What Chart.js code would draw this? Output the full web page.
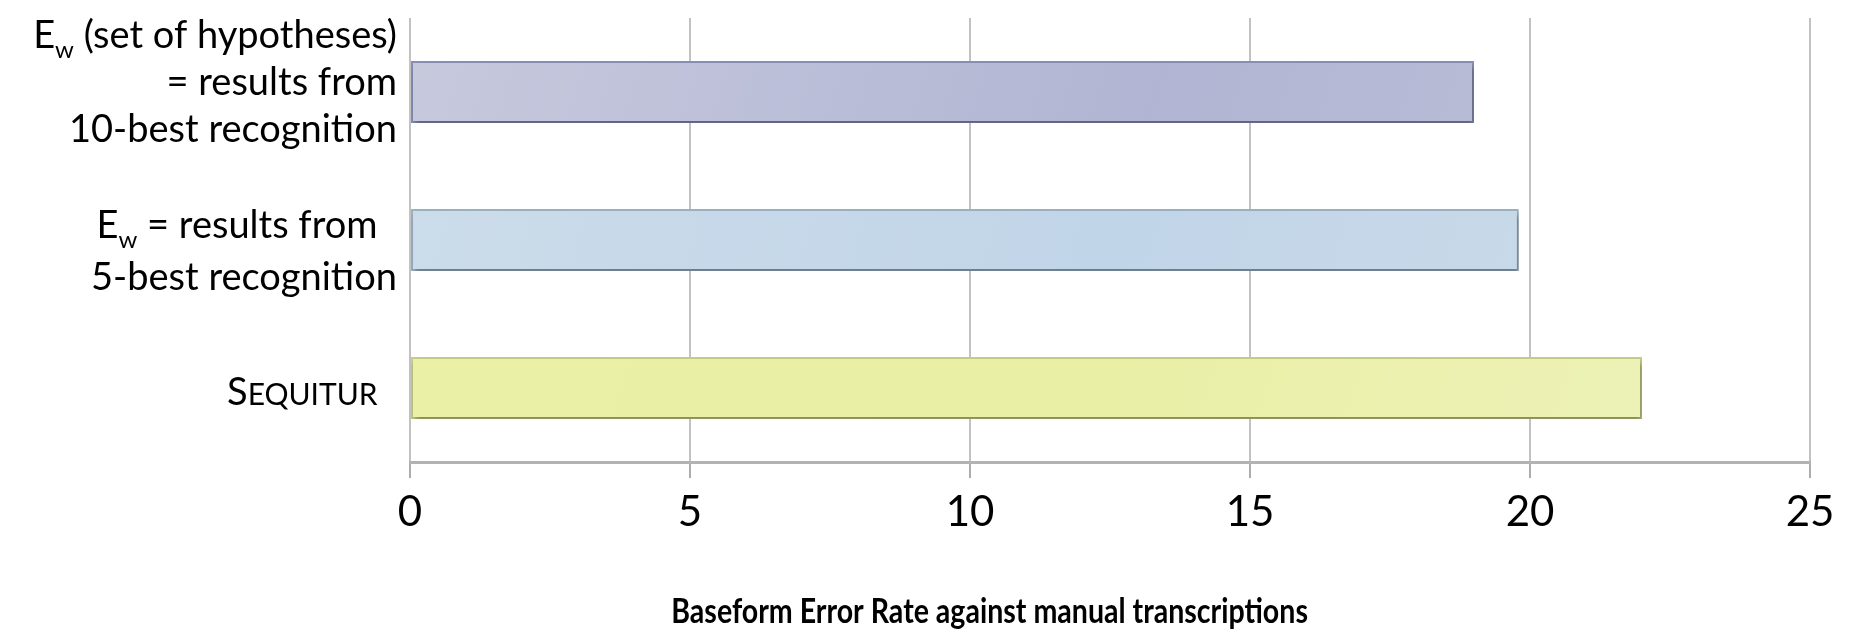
<!DOCTYPE html>
<html>
<head>
<meta charset="utf-8">
<script src="https://cdn.jsdelivr.net/npm/chart.js@4.4.0/dist/chart.umd.min.js"></script>
<style>
  html, body { margin: 0; padding: 0; background: #fff; }
  #wrap { width: 1851px; height: 633px; }
</style>
</head>
<body>
<div id="wrap"><canvas id="chart"></canvas></div>
<script>
// Data
const categories = [
  'Ew (set of hypotheses) = results from 10-best recognition',
  'Ew = results from 5-best recognition',
  'Sequitur'
];
// label lines: _{..} is subscript, ~{..} is small caps
const labelLines = [
  ['E_{w} (set of hypotheses)', '= results from', '10-best recognition'],
  ['E_{w} = results from  ', '5-best recognition'],
  ['S~{EQUITUR}  ']
];
const errorRates = [19, 19.8, 22];
const xMin = 0, xMax = 25, xStep = 5;
const axisTitle = 'Baseform Error Rate against manual transcriptions';

// styling
const barColors = [
  ['#c7c9dd', '#b1b5d3', '#c0c3da', '#8990b6'],
  ['#ccdcea', '#c1d5e8', '#cddbe8', '#9bb3c6'],
  ['#eaf0a6', '#e9efa4', '#eef2bc', '#c8ce84']
];
const labelNudge = [-11, 10, 3];
const lineGaps = [47, 52, 47];

const FONT = 'Lato, "Open Sans", sans-serif';
const LABEL_SIZE = 38;

function parseRuns(str) {
  const runs = [];
  const re = /([_~])\{([^}]*)\}/g;
  let last = 0, m;
  while ((m = re.exec(str))) {
    if (m.index > last) runs.push({ text: str.slice(last, m.index), kind: 'n' });
    runs.push({ text: m[2], kind: m[1] === '_' ? 'sub' : 'sc' });
    last = re.lastIndex;
  }
  if (last < str.length) runs.push({ text: str.slice(last), kind: 'n' });
  return runs;
}

function runFont(kind) {
  if (kind === 'sub') return Math.round(LABEL_SIZE * 0.62) + 'px ' + FONT;
  if (kind === 'sc') return Math.round(LABEL_SIZE * 0.8) + 'px ' + FONT;
  return LABEL_SIZE + 'px ' + FONT;
}

// draws the category labels with subscripts and small caps, plus the axis title
const richLabels = {
  id: 'richLabels',
  afterDraw(chart) {
    const ctx = chart.ctx, y = chart.scales.y;
    const a = chart.chartArea;
    const right = a.left - 13;
    ctx.save();
    ctx.fillStyle = '#000';
    ctx.textBaseline = 'alphabetic';
    ctx.textAlign = 'left';
    labelLines.forEach((lines, i) => {
      const lh = lineGaps[i];
      const cy = y.getPixelForValue(i) + labelNudge[i];
      const first = cy - (lines.length - 1) * lh / 2;
      lines.forEach((line, j) => {
        const runs = parseRuns(line);
        let w = 0;
        runs.forEach(r => { ctx.font = runFont(r.kind); r.w = ctx.measureText(r.text).width; w += r.w; });
        let x = right - w;
        const base = first + j * lh + LABEL_SIZE * 0.36;
        runs.forEach(r => {
          ctx.font = runFont(r.kind);
          ctx.fillText(r.text, x, base + (r.kind === 'sub' ? LABEL_SIZE * 0.27 : 0));
          x += r.w;
        });
      });
    });

    // axis title, slightly condensed like the original face
    ctx.translate(a.left + a.width * 0.414, a.bottom + 150);
    ctx.scale(0.84, 1);
    ctx.font = 'bold 34px ' + FONT;
    ctx.textAlign = 'center';
    ctx.textBaseline = 'middle';
    ctx.fillText(axisTitle, 0, 0);
    ctx.restore();
  }
};

const barShadow = {
  id: 'barShadow',
  beforeDatasetDraw(chart) {
    const ctx = chart.ctx;
    ctx.save();
    ctx.shadowColor = 'rgba(0,0,0,0.35)';
    ctx.shadowBlur = 6;
    ctx.shadowOffsetY = 4;
    ctx.shadowOffsetX = 2;
  },
  afterDatasetDraw(chart) {
    chart.ctx.restore();
  }
};

function barFill(c) {
  const colors = barColors[c.dataIndex];
  const area = c.chart.chartArea;
  if (!area) return colors[1];
  const g = c.chart.ctx.createLinearGradient(area.left, area.top, area.right, area.bottom);
  g.addColorStop(0, colors[0]);
  g.addColorStop(0.5, colors[1]);
  g.addColorStop(1, colors[2]);
  return g;
}

new Chart(document.getElementById('chart'), {
  type: 'bar',
  data: {
    labels: categories,
    datasets: [{
      data: errorRates,
      backgroundColor: barFill,
      borderColor: c => barColors[c.dataIndex][3],
      borderWidth: 2,
      borderSkipped: false,
      barPercentage: 0.42,
      categoryPercentage: 1
    }]
  },
  options: {
    indexAxis: 'y',
    responsive: true,
    maintainAspectRatio: false,
    animation: false,
    layout: { padding: { top: 18, right: 41, left: 0, bottom: 0 } },
    plugins: { legend: { display: false }, tooltip: { enabled: false } },
    scales: {
      x: {
        min: xMin,
        max: xMax,
        ticks: { stepSize: xStep, color: '#000', font: { family: FONT, size: 42 }, padding: 9 },
        grid: {
          color: '#c2c2c2', lineWidth: 2,
          drawTicks: true, tickLength: 16, tickColor: '#adadad', tickWidth: 2
        },
        border: { display: true, color: '#b3b3b3', width: 3 },
        afterFit: s => { s.height = 171; }
      },
      y: {
        ticks: { display: false },
        grid: { display: false },
        border: { display: false },
        afterFit: s => { s.width = 410; }
      }
    }
  },
  plugins: [barShadow, richLabels]
});
</script>
</body>
</html>
